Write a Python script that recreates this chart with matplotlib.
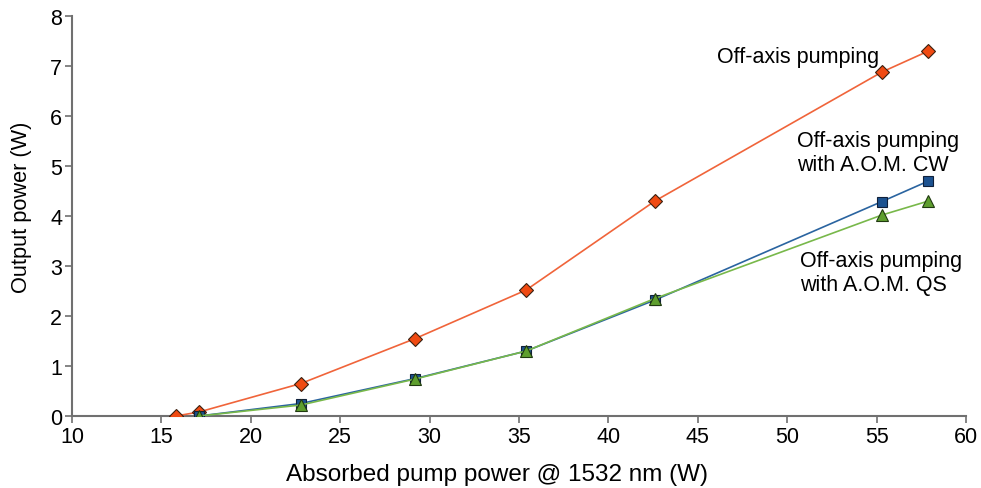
import matplotlib.pyplot as plt

x_off = [15.8, 17.1, 22.8, 29.2, 35.4, 42.6, 55.3, 57.9]
y_off = [0.0, 0.08, 0.65, 1.55, 2.52, 4.30, 6.88, 7.30]

x_aom = [17.1, 22.8, 29.2, 35.4, 42.6, 55.3, 57.9]
y_cw = [0.0, 0.25, 0.75, 1.30, 2.32, 4.29, 4.70]
y_qs = [0.0, 0.22, 0.74, 1.30, 2.35, 4.02, 4.30]

xticks = list(range(10, 61, 5))
yticks = list(range(0, 9))

plt.rcParams['font.family'] = ['Liberation Sans', 'DejaVu Sans']

fig = plt.figure(figsize=(9.81, 4.89), dpi=100)
ax = fig.add_axes([0.0734, 0.1472, 0.9113, 0.818])

ax.plot(x_off, y_off, color='#f0643a', lw=1.2, marker='D', ms=7,
        mfc='#f04a12', mec='#3a2010', mew=0.8, zorder=3)
ax.plot(x_aom, y_cw, color='#2a64a0', lw=1.2, marker='s', ms=6.5,
        mfc='#1c5290', mec='#10203a', mew=0.8, zorder=3)
ax.plot(x_aom, y_qs, color='#78b84a', lw=1.2, marker='^', ms=8.5,
        mfc='#5e9e2e', mec='#203a10', mew=0.8, zorder=4)

ax.text(46.1, 7.2, 'Off-axis pumping', fontsize=15.5, va='center', ha='left')
ax.text(50.55, 5.27, 'Off-axis pumping\nwith A.O.M. CW', fontsize=15.5,
        va='center', ha='left', linespacing=1.15)
ax.text(50.7, 2.87, 'Off-axis pumping\nwith A.O.M. QS', fontsize=15.5,
        va='center', ha='left', linespacing=1.15)

ax.set_xlim(10, 60)
ax.set_ylim(0, 8)
ax.set_xticks(xticks)
ax.set_yticks(yticks)
ax.tick_params(labelsize=15.5, color='#707070', length=5, width=1.2,
               direction='out', pad=2)

for s in ['top', 'right']:
    ax.spines[s].set_visible(False)
for s in ['left', 'bottom']:
    ax.spines[s].set_color('#707070')
    ax.spines[s].set_linewidth(1.5)

ax.set_xlabel('Absorbed pump power @ 1532 nm (W)', fontsize=17.5)
ax.set_ylabel('Output power (W)', fontsize=15.7)
ax.xaxis.set_label_coords(0.475, -0.118)
ax.yaxis.set_label_coords(-0.045, 0.525)

fig.savefig('out.png', dpi=100)
